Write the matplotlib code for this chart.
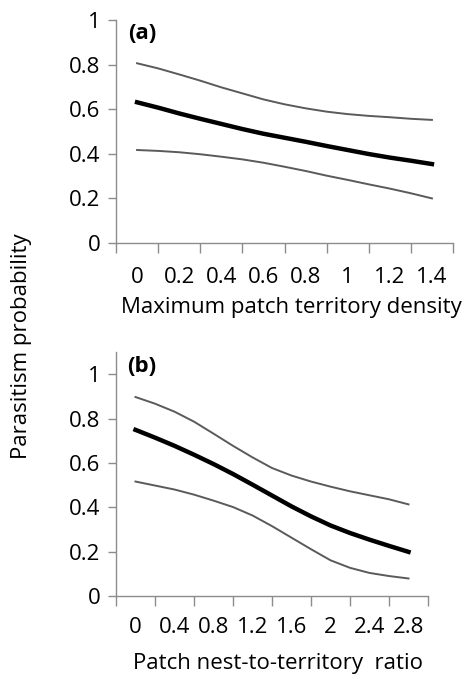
import matplotlib
matplotlib.use('Agg')
import matplotlib.pyplot as plt
import numpy as np

plt.rcParams['font.family'] = ['Open Sans', 'DejaVu Sans']

# panel (a): maximum patch territory density
a_x = [0.0, 0.1, 0.2, 0.3, 0.4, 0.5, 0.6, 0.7, 0.8, 0.9, 1.0, 1.1, 1.2, 1.3, 1.4]
a_mean = [0.631, 0.607, 0.581, 0.557, 0.534, 0.511, 0.490, 0.472, 0.454,
          0.435, 0.417, 0.399, 0.383, 0.369, 0.354]
a_upper = [0.806, 0.783, 0.756, 0.728, 0.698, 0.671, 0.644, 0.622, 0.604,
           0.589, 0.578, 0.570, 0.564, 0.557, 0.552]
a_lower = [0.417, 0.413, 0.407, 0.398, 0.387, 0.375, 0.360, 0.342, 0.323,
           0.302, 0.283, 0.263, 0.244, 0.223, 0.200]
a_cats = ['0', '0.2', '0.4', '0.6', '0.8', '1', '1.2', '1.4']

# panel (b): patch nest-to-territory ratio
b_x = [0.0, 0.2, 0.4, 0.6, 0.8, 1.0, 1.2, 1.4, 1.6, 1.8, 2.0, 2.2, 2.4, 2.6, 2.8]
b_mean = [0.749, 0.714, 0.677, 0.637, 0.595, 0.550, 0.502, 0.453, 0.404,
          0.359, 0.318, 0.284, 0.254, 0.226, 0.199]
b_upper = [0.897, 0.867, 0.831, 0.786, 0.732, 0.677, 0.625, 0.577, 0.543,
           0.516, 0.493, 0.472, 0.454, 0.436, 0.413]
b_lower = [0.516, 0.498, 0.480, 0.457, 0.430, 0.401, 0.363, 0.315, 0.263,
           0.211, 0.161, 0.127, 0.104, 0.090, 0.079]
b_cats = ['0', '0.4', '0.8', '1.2', '1.6', '2', '2.4', '2.8']

W, H = 476, 679
fig = plt.figure(figsize=(W/100, H/100), dpi=100)

def box(l, t, r, b):
    return [l/W, 1-b/H, (r-l)/W, (b-t)/H]

axcol = '#8c8c8c'
fs = 16

def panel(rect, x, mean, upper, lower, cats, ytop, tag, xlabel, xlab_pos, xpad):
    ax = fig.add_axes(rect)
    step = float(cats[1]) - float(cats[0])
    ax.plot(x, upper, color='#5a5a5a', lw=1.4)
    ax.plot(x, lower, color='#5a5a5a', lw=1.4)
    ax.plot(x, mean, color='black', lw=3.2)
    centers = [float(c) for c in cats]
    ax.set_xlim(centers[0]-step/2, centers[-1]+step/2)
    ax.set_ylim(0, ytop)
    ax.set_xticks(centers)
    ax.set_xticklabels(cats)
    ax.set_xticks([c - step/2 for c in centers] + [centers[-1] + step/2], minor=True)
    ax.tick_params(axis='x', which='major', length=0, pad=xpad, labelsize=fs)
    ax.tick_params(axis='x', which='minor', length=7, width=1, color=axcol, direction='out')
    ax.set_yticks([0, 0.2, 0.4, 0.6, 0.8, 1])
    ax.set_yticklabels(['0', '0.2', '0.4', '0.6', '0.8', '1'])
    ax.tick_params(axis='y', length=6, width=1, color=axcol, direction='out', pad=5, labelsize=fs)
    for s in ['top', 'right']:
        ax.spines[s].set_visible(False)
    for s in ['left', 'bottom']:
        ax.spines[s].set_color(axcol)
        ax.spines[s].set_linewidth(1)
    ax.text(0.035, 0.985, tag, transform=ax.transAxes, fontsize=fs,
            fontweight='bold', va='top', ha='left')
    fig.text(xlab_pos[0]/W, 1-xlab_pos[1]/H, xlabel, fontsize=fs,
             ha='center', va='center')
    return ax

panel(box(116, 20, 453, 243), a_x, a_mean, a_upper, a_lower, a_cats, 1.0, '(a)',
      'Maximum patch territory density', (291, 308), 17)
panel(box(116, 352, 428, 596), b_x, b_mean, b_upper, b_lower, b_cats, 1.1, '(b)',
      'Patch nest-to-territory  ratio', (278, 663), 15)

fig.text(22/W, 1-346/H, 'Parasitism probability', rotation=90, fontsize=fs,
         ha='center', va='center')

fig.savefig('out.png', dpi=100)
